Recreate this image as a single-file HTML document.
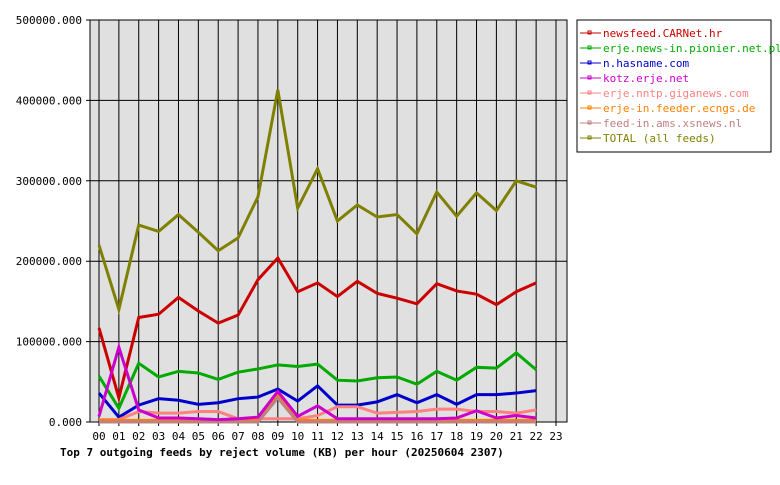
<!DOCTYPE html>
<html><head><meta charset="utf-8"><style>
body{margin:0;background:#fff;width:780px;height:480px;overflow:hidden}
text{font-family:"DejaVu Sans Mono","Liberation Mono",monospace;font-size:11px}
</style></head><body>
<svg id="chart" width="780" height="480" xmlns="http://www.w3.org/2000/svg"></svg>
<script>
const hours=["00","01","02","03","04","05","06","07","08","09","10","11","12","13","14","15","16","17","18","19","20","21","22","23"];
const yTicks=[0,100000,200000,300000,400000,500000];
const seriesNames=["newsfeed.CARNet.hr","erje.news-in.pionier.net.pl","n.hasname.com","kotz.erje.net","erje.nntp.giganews.com","erje-in.feeder.ecngs.de","feed-in.ams.xsnews.nl","TOTAL (all feeds)"];
const seriesColors=["#cc0000","#00aa00","#0000cc","#cc00cc","#ff8080","#ff8000","#c08080","#808000"];
const sCarnet=[117,30,130,134,155,138,123,133,177,204,162,173,156,175,160,154,147,172,163,159,146,162,173];
const sPionier=[57,17,73,56,63,61,53,62,66,71,69,72,52,51,55,56,47,63,52,68,67,86,65];
const sHasname=[36,6,21,29,27,22,24,29,31,41,26,45,21,21,25,34,24,34,22,34,34,36,39];
const sKotz=[7,93,15,5,5,4,3,4,6,38,7,20,4,4,4,4,4,4,5,14,5,8,5];
const sGiga=[3,3,13,11,11,13,13,4,4,4,4,8,19,19,11,12,13,16,16,13,13,11,15];
const sEcngs=[2,2,2,2,2,2,2,2,2,35,2,2,2,2,2,2,2,2,2,2,2,2,2];
const sXsnews=[0,0,0,0,0,0,0,0,0,30,0,0,0,0,0,0,0,0,0,0,0,0,0];
const sTotal=[220,140,245,237,258,236,213,229,280,413,266,315,250,270,255,258,234,286,256,285,263,300,292];
const drawOrder=[7,0,1,2,4,5,6,3];
const allSeries=[sCarnet,sPionier,sHasname,sKotz,sGiga,sEcngs,sXsnews,sTotal];
const NS="http://www.w3.org/2000/svg";
const svg=document.getElementById('chart');
const L=90,R=567,T=20,B=422;
const xs=i=>99+i*(556-99)/23;
const ys=v=>B-(v/500000)*(B-T);
function el(t,a,p){const e=document.createElementNS(NS,t);for(const k in a)e.setAttribute(k,a[k]);(p||svg).appendChild(e);return e;}
const plot=el('rect',{x:L,y:T,width:R-L,height:B-T,fill:'#e0e0e0',stroke:'#000'});


hours.forEach((h,i)=>{
  const x=xs(i);
  const g=el('line',{x1:x,y1:T,x2:x,y2:B+4,stroke:'#000'});
  
  
  const t=el('text',{x:x,y:440,'text-anchor':'middle'});t.textContent=h;
  
  
});
yTicks.forEach(v=>{
  const y=ys(v);
  const g=el('line',{x1:L-4,y1:y,x2:R,y2:y,stroke:'#000'});
  
  
  const t=el('text',{x:L-8,y:y+4,'text-anchor':'end'});t.textContent=v.toFixed(3);
  
  
});
drawOrder.forEach(si=>{
  const d=allSeries[si];
  const pts=d.map((v,i)=>xs(i)+','+ys(v*1000)).join(' ');
  const p=el('polyline',{points:pts,fill:'none',stroke:seriesColors[si],'stroke-width':3,'stroke-linejoin':'miter'});
  
  
});
const lg=el('g',{});


el('rect',{x:577,y:20,width:194,height:132,fill:'#fff',stroke:'#000'},lg);
seriesNames.forEach((n,i)=>{
  const y=33+i*15;
  el('line',{x1:580,y1:y,x2:601,y2:y,stroke:seriesColors[i]},lg);
  el('rect',{x:588,y:y-2,width:3,height:3,fill:'none',stroke:seriesColors[i],'stroke-width':1},lg);
  const t=el('text',{x:603,y:y+4,fill:seriesColors[i]},lg);t.textContent=n;
  
  
});
const title=el('text',{x:60,y:456,'font-weight':'bold','font-size':'12px'});
title.textContent="Top 7 outgoing feeds by reject volume (KB) per hour (20250604 2307)";


</script>
</body></html>
